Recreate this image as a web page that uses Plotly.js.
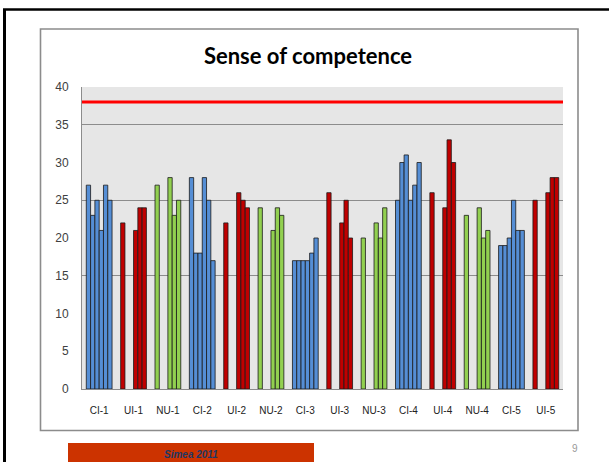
<!DOCTYPE html>
<html>
<head>
<meta charset="utf-8">
<script src="https://cdn.plot.ly/plotly-3.0.1.min.js"></script>
<style>html,body{margin:0;padding:0;background:#fff;}#chart{width:609px;height:462px;}</style>
</head>
<body>
<div id="chart"></div>
<script>
// ---- data ----
var categories = ["CI-1","UI-1","NU-1","CI-2","UI-2","NU-2","CI-3","UI-3","NU-3","CI-4","UI-4","NU-4","CI-5","UI-5"];
var series1 = [27,22,27,28,22,24,17,26,20,25,26,23,19,25];
var series2 = [23,null,null,18,null,null,17,null,null,30,null,null,19,null];
var series3 = [25,null,null,18,null,null,17,null,null,31,null,null,20,null];
var series4 = [21,21,28,28,26,21,17,22,22,25,24,24,25,26];
var series5 = [27,24,23,25,25,24,18,25,20,27,33,20,21,28];
var series6 = [25,24,25,17,24,23,20,20,24,30,30,21,21,28];
var threshold = [38,38];
var yTicks = [0,5,10,15,20,25,30,35,40];
var gridVals = [15,25,35];

// ---- styling ----
var groupColors = {CI:"#558ED5", UI:"#C00000", NU:"#92D050"};
var barColors = categories.map(function(c){ return groupColors[c.split("-")[0]]; });

var allSeries = [series1,series2,series3,series4,series5,series6];
var traces = allSeries.map(function(s,i){
  return {
    type:"bar", x:categories, y:s, name:"S"+(i+1),
    marker:{color:barColors, line:{color:"#1a1a1a", width:0.8}},
    hoverinfo:"x+y", showlegend:false
  };
});
traces.push({
  type:"scatter", mode:"lines", x:[0,1], y:threshold, xaxis:"x2", yaxis:"y2",
  line:{color:"#FF0000", width:3}, hoverinfo:"skip", showlegend:false
});

// plot area pixel geometry
var L=82, R=563, T=87, B=389, W=609, H=462;
function px(x){ return (x-L)/(R-L); }
function py(y){ return (B-y)/(B-T); }

var layout = {
  width:W, height:H,
  margin:{l:L, r:W-R, t:T, b:H-B, pad:0},
  paper_bgcolor:"#ffffff",
  plot_bgcolor:"#E6E6E6",
  showlegend:false,
  barmode:"group", bargap:0.25, bargroupgap:0,
  title:{text:"Sense of competence", x:308/W, xanchor:"center", y:1-56/H, yanchor:"middle", yref:"container",
         font:{family:"Lato, 'Open Sans', sans-serif", size:22, color:"#000", weight:"bold"}},
  xaxis:{type:"category", categoryorder:"array", categoryarray:categories,
         showline:true, linecolor:"#8c8c8c", linewidth:1, ticks:"", showgrid:false, zeroline:false,
         tickfont:{family:"'Liberation Sans Narrow', 'Liberation Sans', Arial, sans-serif", size:10, color:"#222"},
         ticklabelstandoff:12, fixedrange:true},
  yaxis:{range:[0,40], tickmode:"array", tickvals:yTicks, ticktext:yTicks.map(String),
         showline:true, linecolor:"#8c8c8c", linewidth:1, ticks:"", showgrid:false, zeroline:false,
         tickfont:{family:"'Liberation Sans', Arial, sans-serif", size:12, color:"#404040"},
         ticklabelstandoff:10, fixedrange:true},
  xaxis2:{overlaying:"x", range:[0,1], visible:false, fixedrange:true},
  yaxis2:{overlaying:"y", range:[0,40], tickmode:"array", tickvals:gridVals, showticklabels:false,
          showgrid:true, gridcolor:"#8c8c8c", gridwidth:1, ticks:"", zeroline:false, showline:false, fixedrange:true},
  shapes:[
    // outer black frame (left + top)
    {type:"line", xref:"paper", yref:"paper", x0:px(4.5), x1:px(4.5), y0:py(9.5), y1:py(H+2), line:{color:"#000", width:3}},
    {type:"line", xref:"paper", yref:"paper", x0:px(3), x1:px(W+2), y0:py(9.5), y1:py(9.5), line:{color:"#000", width:2.5}},
    // grey chart box
    {type:"rect", xref:"paper", yref:"paper", x0:px(40.5), x1:px(578), y0:py(29), y1:py(430.5), line:{color:"#8c8c8c", width:1.6}},
    // orange footer bar
    {type:"rect", xref:"paper", yref:"paper", x0:px(68), x1:px(314), y0:py(443), y1:py(H+2), fillcolor:"#CC3300", line:{width:0}}
  ],
  annotations:[
    {xref:"paper", yref:"paper", x:px(191), y:py(454), xanchor:"center", yanchor:"middle", showarrow:false,
     text:"<b><i>Simea 2011</i></b>", font:{family:"'Liberation Sans', Arial, sans-serif", size:10, color:"#1F3864"}},
    {xref:"paper", yref:"paper", x:px(575), y:py(449), xanchor:"center", yanchor:"middle", showarrow:false,
     text:"9", font:{family:"'Liberation Sans', Arial, sans-serif", size:10, color:"#999"}}
  ]
};

Plotly.newPlot("chart", traces, layout, {staticPlot:true, displayModeBar:false});
</script>
</body>
</html>
